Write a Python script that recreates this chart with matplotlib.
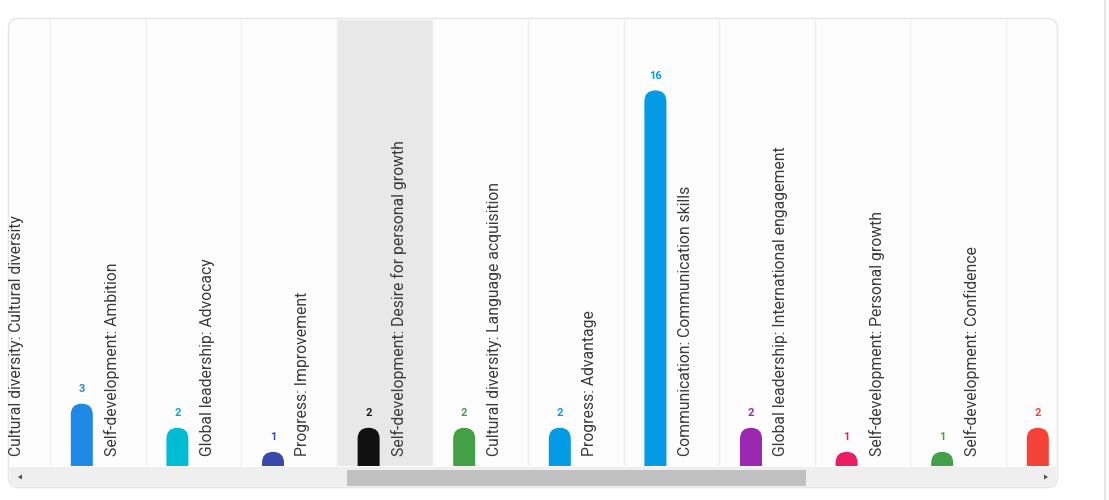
import matplotlib
matplotlib.use("Agg")
import matplotlib.pyplot as plt
from matplotlib.patches import FancyBboxPatch, Rectangle, Polygon

categories = [
    "Cultural diversity: Cultural diversity",
    "Self-development: Ambition",
    "Global leadership: Advocacy",
    "Progress: Improvement",
    "Self-development: Desire for personal growth",
    "Cultural diversity: Language acquisition",
    "Progress: Advantage",
    "Communication: Communication skills",
    "Global leadership: International engagement",
    "Self-development: Personal growth",
    "Self-development: Confidence",
    "",
]
values = [2, 3, 2, 1, 2, 2, 2, 16, 2, 1, 1, 2]
bar_colors = ["#1E88E5", "#1E88E5", "#00BCD4", "#3949AB", "#111111", "#43A047",
              "#039BE5", "#039BE5", "#9C27B0", "#E91E63", "#43A047", "#F44336"]
label_colors = ["#1E88E5", "#1E88E5", "#00ACC1", "#3949AB", "#222222", "#43A047",
                "#039BE5", "#039BE5", "#9C27B0", "#E91E63", "#43A047", "#F44336"]
highlight_index = 4

W, H = 1109, 500
fig = plt.figure(figsize=(W / 100, H / 100), dpi=100)
fig.patch.set_facecolor("white")

def px_rect(x0, y0, x1, y1):
    # pixel coords (top-left origin) -> figure fraction rect
    return [x0 / W, 1 - y1 / H, (x1 - x0) / W, (y1 - y0) / H]

# Panel background with rounded corners
bg = fig.add_axes([0, 0, 1, 1])
bg.set_xlim(0, W)
bg.set_ylim(H, 0)
bg.axis("off")
bg.add_patch(FancyBboxPatch((8.5, 18.5), 1049, 469, boxstyle="round,pad=0,rounding_size=10",
                            facecolor="#fdfdfd", edgecolor="#e6e6e6", linewidth=1.0))
bg.plot([1105, 1105], [0, 500], color="#e4e4e4", linewidth=1.5)

# Main plot axes
col_px = 95.6
ax_left_px, ax_right_px = 9, 1057
ax_top_px, ax_bot_px = 20, 466
ax = fig.add_axes(px_rect(ax_left_px, ax_top_px, ax_right_px, ax_bot_px))
ax.set_facecolor("none")
x_first_boundary = 50  # boundary between column 0 and 1 at data x = 0.5
xmin = 0.5 - (x_first_boundary - ax_left_px) / col_px
xmax = 0.5 + (ax_right_px - x_first_boundary) / col_px
ax.set_xlim(xmin, xmax)
ppu = 24.1  # pixels per unit value
zero_px = 476
ax.set_ylim((zero_px - ax_bot_px) / ppu, (zero_px - ax_top_px) / ppu)
for s in ax.spines.values():
    s.set_visible(False)
ax.set_xticks([])
ax.set_yticks([])

n = len(values)
ylo, yhi = ax.get_ylim()
# highlighted column
ax.add_patch(Rectangle((highlight_index - 0.5, ylo), 1, yhi - ylo, facecolor="#e8e8e8",
                       edgecolor="none", zorder=0))
# separators
for i in range(n):
    ax.axvline(i + 0.5, color="#eeeeee", linewidth=1.0, zorder=0.5)

bar_off = -16 / col_px
bar_w = 22 / col_px
lab_off = 14 / col_px
r_x = bar_w / 2
r_y = 11 / ppu
for i, (v, c) in enumerate(zip(values, bar_colors)):
    x0 = i + bar_off - bar_w / 2
    p = FancyBboxPatch((x0, -1), bar_w, v + 1,
                       boxstyle=f"round,pad=0,rounding_size={r_x}",
                       mutation_aspect=r_y / r_x,
                       facecolor=c, edgecolor="none", zorder=2)
    ax.add_patch(p)
    ax.annotate(str(v), (i + bar_off, v), xytext=(0, 7), textcoords="offset points",
                ha="center", va="bottom", fontsize=8, fontweight="bold",
                color=label_colors[i], family="Roboto", zorder=3)
    if categories[i]:
        ax.text(i + lab_off, (zero_px - 456) / ppu, categories[i], rotation=90,
                ha="center", va="bottom", fontsize=11.3, color="#3a3a3a",
                family="Roboto", zorder=3)

# Scrollbar
sb = bg
sb.add_patch(Rectangle((10, 467), 1046, 20, facecolor="#efefef", edgecolor="none", zorder=1))
sb.add_patch(Rectangle((347, 469.5), 459, 16, facecolor="#c1c1c1", edgecolor="none", zorder=2))
sb.add_patch(Polygon([[18, 477], [22, 474.5], [22, 479.5]], closed=True,
                     facecolor="#505050", edgecolor="none", zorder=3))
sb.add_patch(Polygon([[1048, 477], [1044, 474.5], [1044, 479.5]], closed=True,
                     facecolor="#505050", edgecolor="none", zorder=3))

fig.savefig("out.png", dpi=100, facecolor="white")
